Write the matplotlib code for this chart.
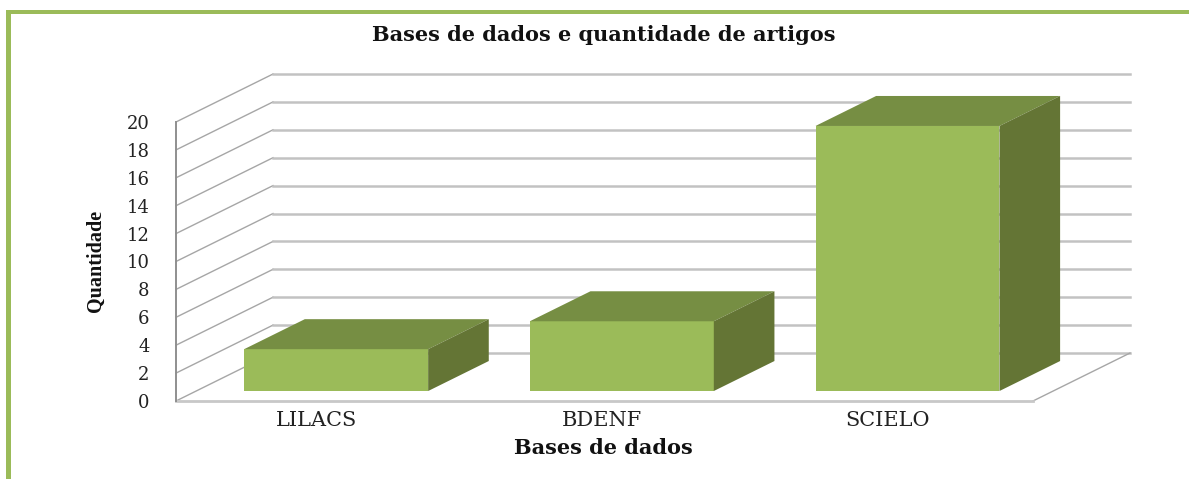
import matplotlib
matplotlib.use('Agg')
import matplotlib.pyplot as plt
from matplotlib.patches import Rectangle
from matplotlib.transforms import ScaledTranslation
import numpy as np

categories = ['LILACS', 'BDENF', 'SCIELO']
quantidade = [3, 5, 19]
y_ticks = list(range(0, 21, 2))

W, H = 1189, 479
GREEN = '#9BBB59'
TOP = '#768E43'
SIDE = '#647535'

# oblique projection: depth 0 = front plane, depth 1 = back wall
DX = 0.3396
DY = 3.44


def proj(x, y, d):
    return x + d * DX, y + d * DY


fig = plt.figure(figsize=(W / 100, H / 100), dpi=100, facecolor='white')
ax = fig.add_axes([176 / W, (H - 401) / H, (1033 - 176) / W, (401 - 122) / H])
ax.set_xlim(0, 3)
ax.set_ylim(0, 20)
ax.patch.set_visible(False)

# page border
fig.add_artist(Rectangle((6 / W, 0), 5 / W, (H - 10) / H, transform=fig.transFigure, color=GREEN, lw=0))
fig.add_artist(Rectangle((6 / W, (H - 14) / H), (W - 6) / W, 4 / H, transform=fig.transFigure, color=GREEN, lw=0))

# walls
for v in y_ticks:
    bx, by = proj(0, v, 1)
    ex, ey = proj(3, v, 1)
    ax.plot([0, bx], [v, by], color='#a6a6a6', lw=1.0, clip_on=False, zorder=1)
    ax.plot([bx, ex], [by, ey], color='#c2c2c2', lw=1.8, clip_on=False, zorder=1)
fx, fy = proj(3, 0, 1)
ax.plot([3, fx], [0, fy], color='#a6a6a6', lw=1.0, clip_on=False, zorder=1)
ax.plot([0, 3], [0, 0], color='#c8c8c8', lw=2.0, clip_on=False, zorder=1)
ax.plot([0, 0], [0, 20], color='#8f8f8f', lw=1.4, clip_on=False, zorder=1)

# bars
bar_w = 0.644
d0, d1 = 0.208, 0.833
for i, val in enumerate(quantidade):
    x0 = i + 0.5 - bar_w / 2 - 0.01
    x1 = x0 + bar_w
    corners = lambda pts: list(zip(*[proj(px, py, pd) for px, py, pd in pts]))
    xs, ys = corners([(x0, 0, d0), (x1, 0, d0), (x1, val, d0), (x0, val, d0)])
    ax.fill(xs, ys, color=GREEN, lw=0, clip_on=False, zorder=3)
    xs, ys = corners([(x0, val, d0), (x1, val, d0), (x1, val, d1), (x0, val, d1)])
    ax.fill(xs, ys, color=TOP, lw=0, clip_on=False, zorder=3)
    xs, ys = corners([(x1, 0, d0), (x1, 0, d1), (x1, val, d1), (x1, val, d0)])
    ax.fill(xs, ys, color=SIDE, lw=0, clip_on=False, zorder=3)

for s in ax.spines.values():
    s.set_visible(False)

ax.set_yticks(y_ticks)
ax.set_yticklabels(y_ticks, family='DejaVu Serif', fontsize=13, color='#222222')
ax.set_xticks(np.arange(3) + 0.5)
ax.set_xticklabels(categories, family='DejaVu Serif', fontsize=15, color='#222222')
ax.tick_params(axis='y', length=0, pad=19)
ax.tick_params(axis='x', length=0, pad=7)
for lab in ax.get_xticklabels():
    lab.set_transform(lab.get_transform() + ScaledTranslation(-2.5 / 100, 0, fig.dpi_scale_trans))

fig.text(604 / W, (H - 35) / H, 'Bases de dados e quantidade de artigos', family='DejaVu Serif',
         fontweight='bold', fontsize=15, ha='center', va='center', color='#111111')
fig.text(603 / W, (H - 448) / H, 'Bases de dados', family='DejaVu Serif',
         fontweight='bold', fontsize=15, ha='center', va='center', color='#111111')
fig.text(96 / W, (H - 261) / H, 'Quantidade', family='Liberation Serif',
         fontweight='bold', fontsize=14.5, rotation=90, ha='center', va='center', color='#111111')

fig.savefig('out.png', dpi=100)
